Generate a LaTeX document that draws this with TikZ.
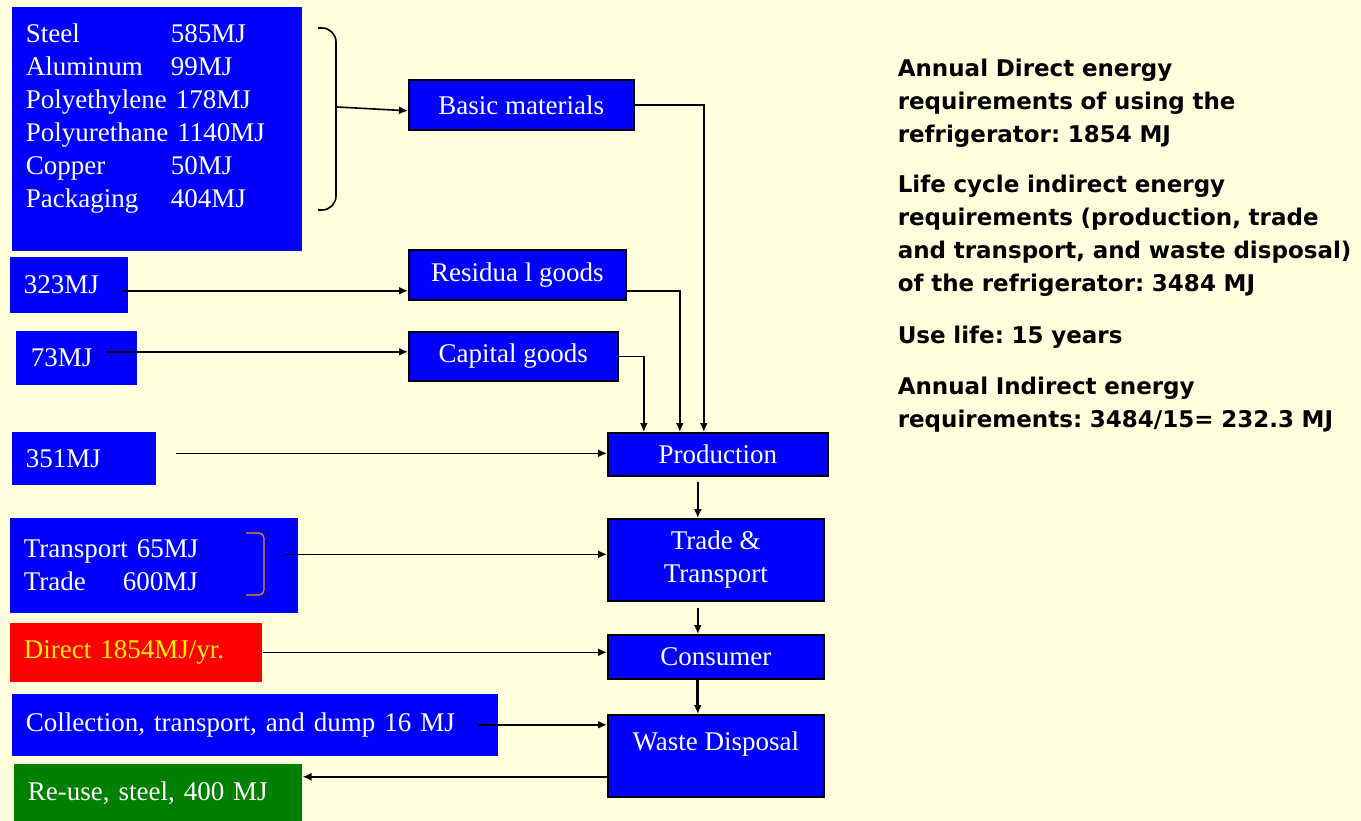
\documentclass[tikz,border=0pt]{standalone}
\usepackage{fontspec}
\setmainfont{Liberation Serif}
\newfontfamily\infofont{DejaVu Sans}
\usepackage{tikz}
\usetikzlibrary{arrows.meta}
\definecolor{bgyellow}{RGB}{255,255,221}
\definecolor{boxgreen}{RGB}{0,128,0}
\definecolor{bracket}{RGB}{240,150,20}
\frenchspacing

\begin{document}
\begin{tikzpicture}[x=1pt,y=-1pt,line width=1.6pt,>={Latex[length=9pt,width=8pt]},
	srcbox/.style={fill=blue,text=white,anchor=north west,inner xsep=14pt,inner ysep=0pt,align=left,font=\fontsize{27}{33}\selectfont},
	flowbox/.style={draw=black,fill=blue,text=white,anchor=north west,inner sep=0pt,align=center,font=\fontsize{27}{33}\selectfont},
	info/.style={anchor=base west,inner sep=0pt,text width=470pt,align=left,font=\infofont\bfseries\fontsize{23}{33}\selectfont}]
\fill[bgyellow] (0,0) rectangle (1361,821);
\useasboundingbox (0,0) rectangle (1361,821);

% inputs on the left
\node[srcbox,text width=262pt,text height=36pt,text depth=208pt] (mat) at (11,6)
	{\makebox[145pt][l]{Steel}585MJ\\ \makebox[145pt][l]{Aluminum}99MJ\\ Polyethylene 178MJ\\ Polyurethane 1140MJ\\ \makebox[145pt][l]{Copper}50MJ\\ \makebox[145pt][l]{Packaging}404MJ};
\node[srcbox,text width=90pt,minimum height=56pt] (r323) at (9,256) {323MJ};
\node[srcbox,text width=91pt,minimum height=54pt,inner xsep=15pt] (r73) at (15,330) {73MJ};
\node[srcbox,text width=116pt,minimum height=53pt] (r351) at (11,431) {351MJ};
\node[srcbox,text width=260pt,minimum height=95pt] (trans) at (9,517) {Transport 65MJ\\ \makebox[99pt][l]{Trade}600MJ};
\node[srcbox,fill=red,text=yellow,text width=224pt,minimum height=59pt] (direct) at (9,622) {Direct 1854MJ/yr.};
\node[srcbox,text width=458pt,minimum height=62pt] (collect) at (11,693) {Collection, transport, and dump 16 MJ};
\node[srcbox,fill=boxgreen,text width=260pt,minimum height=58pt] (reuse) at (13,763) {Re-use, steel, 400 MJ};

% brackets
\draw[rounded corners=14pt] (318,28) -- (336,28) -- (336,210) -- (318,210);
\coordinate (brtip) at (337,107);
\draw[bracket,line width=1.2pt,rounded corners=5pt] (246,533) -- (264,533) -- (264,595) -- (246,595);

% flow chart
\node[flowbox,minimum width=225pt,minimum height=50pt] (basic) at (408,79) {Basic materials};
\node[flowbox,minimum width=217pt,minimum height=50pt] (resid) at (408,249) {Residua l goods};
\node[flowbox,minimum width=209pt,minimum height=49pt] (capital) at (408,331) {Capital goods};
\node[flowbox,minimum width=220pt,minimum height=43pt] (prod) at (607,432) {Production};
\node[flowbox,minimum width=216pt,minimum height=82pt] (trade) at (607,518) {Trade \&\\ Transport};
\node[flowbox,minimum width=216pt,minimum height=44pt] (consumer) at (607,634) {Consumer};
\node[flowbox,minimum width=216pt,text height=36pt,text depth=46pt] (waste) at (607,714) {Waste Disposal};

\coordinate (a323) at ([xshift=-7pt,yshift=-6pt]r323.east);
\coordinate (a73) at ([xshift=-32pt,yshift=6pt]r73.east);
\coordinate (a351) at ([xshift=19pt,yshift=5pt]r351.east);
\coordinate (atrans) at ([xshift=-15pt,yshift=11pt]trans.east);
\draw[->] (brtip) -- ([yshift=-6pt]basic.west);
\draw[->] (a323) -- (a323 -| resid.west);
\draw[->] (a73) -- (a73 -| capital.west);
\draw[->] (a351) -- (a351 -| prod.west);
\draw[->] (atrans) -- (atrans -| trade.west);
\draw[->] (direct.east) -- (direct.east -| consumer.west);
\draw[->] ([xshift=-21pt]collect.east) -- (collect.east -| waste.west);
\draw[->] ([yshift=-21pt]waste.west) -- ([yshift=-21pt]waste.west -| reuse.east);

\draw[->] (basic.east) -| ([xshift=-14pt]prod.north);
\draw[->] ([yshift=-16pt]resid.east) -| ([xshift=-38pt]prod.north);
\draw[->] (capital.east) -| ([xshift=-74pt]prod.north);
\draw[->,shorten <=5pt] ([xshift=-18pt]trade.north |- prod.south) -- ([xshift=-18pt]trade.north);
\draw[->,shorten <=6pt] ([xshift=-18pt]consumer.north |- trade.south) -- ([xshift=-18pt]consumer.north);
\draw[->,line width=2.8pt] ([xshift=-18pt]consumer.south) -- ([xshift=-18pt]waste.north);

% notes on the right
\node[info] (info1) at (897,77) {Annual Direct energy\\ requirements of using the\\ refrigerator: 1854 MJ};
\node[info] (info2) at (897,193) {Life cycle indirect energy\\ requirements (production, trade\\ and transport, and waste disposal)\\ of the refrigerator: 3484 MJ};
\node[info] (info3) at (897,344) {Use life: 15 years};
\node[info] (info4) at (897,394) {Annual Indirect energy\\ requirements: 3484/15= 232.3 MJ};
\end{tikzpicture}
\end{document}
